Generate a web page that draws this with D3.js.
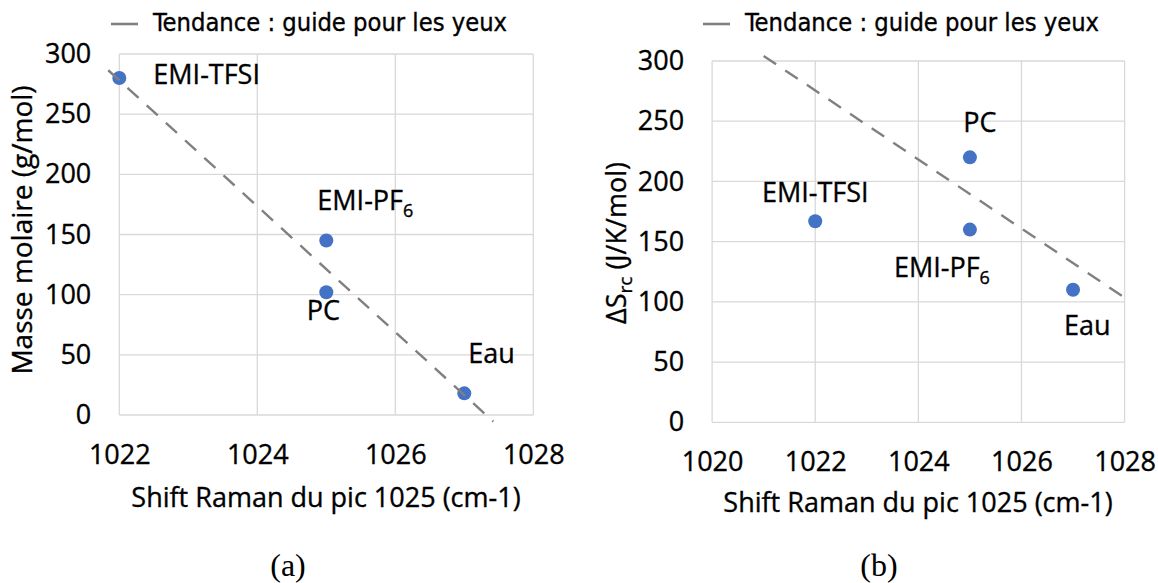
<!DOCTYPE html>
<html>
<head>
<meta charset="utf-8">
<script src="https://cdn.jsdelivr.net/npm/d3@7"></script>
<style>
  body { margin: 0; background: #fff; }
  text { fill: #000; }
  .heavy text, text.heavy { stroke: #000; stroke-width: 0.35; }
</style>
</head>
<body>
<div class="fig"></div>
<script>
// data
const solvants = ["EMI-TFSI", "EMI-PF6", "PC", "Eau"]
const shiftRaman = [1022, 1025, 1025, 1027]
const masseMolaire = [280, 145, 102, 18]
const deltaS = [167, 160, 220, 110]

// trend lines (guide pour les yeux), endpoints [x, y]
const trendA = [[1021.84, 286.5], [1027.42, -5.4]]
const trendB = [[1021.0, 304.2], [1028.04, 102.4]]

const yTicks = [0, 50, 100, 150, 200, 250, 300]
const xTicksA = [1022, 1024, 1026, 1028]
const xTicksB = [1020, 1022, 1024, 1026, 1028]

const legendText = "Tendance : guide pour les yeux"
const xTitle = "Shift Raman du pic 1025 (cm-1)"

const sans = '"Open Sans", sans-serif'

const svg = d3.select('.fig').append('svg')
    .attr('width', 1158)
    .attr('height', 583)
    .style('font-family', sans)

function drawPanel(p) {
    const g = svg.append('g')

    const x = d3.scaleLinear().domain(p.xDomain).range([p.left, p.right])
    const y = d3.scaleLinear().domain([0, 300]).range([p.bottom, p.top])

    // grid
    g.selectAll('.hgrid')
    .data(yTicks)
    .enter()
    .append('line')
    .attr('x1', p.left).attr('x2', p.right)
    .attr('y1', d => y(d)).attr('y2', d => y(d))
    .attr('stroke', '#d9d9d9').attr('stroke-width', 1.3)

    g.selectAll('.vgrid')
    .data(p.xTicks)
    .enter()
    .append('line')
    .attr('x1', d => x(d)).attr('x2', d => x(d))
    .attr('y1', p.top).attr('y2', p.bottom)
    .attr('stroke', '#d9d9d9').attr('stroke-width', 1.3)

    // axes (labels only)
    const xAxis = g.append('g')
    .attr('class', 'heavy')
    .attr('transform', `translate(0,${p.bottom})`)
    .call(d3.axisBottom(x).tickValues(p.xTicks).tickFormat(d3.format('d')).tickSize(0).tickPadding(30))
    xAxis.select('.domain').remove()
    xAxis.attr('font-family', null).attr('font-size', null)
    xAxis.selectAll('text').style('font-size', '27px').attr('fill', '#000')

    const yAxis = g.append('g')
    .attr('class', 'heavy')
    .attr('transform', `translate(${p.left},0)`)
    .call(d3.axisLeft(y).tickValues(yTicks).tickSize(0).tickPadding(28))
    yAxis.select('.domain').remove()
    yAxis.attr('font-family', null).attr('font-size', null)
    yAxis.selectAll('text').style('font-size', '27px').attr('fill', '#000')

    // points
    g.selectAll('.pt')
    .data(solvants)
    .enter()
    .append('circle')
    .attr('cx', (d, i) => x(shiftRaman[i]))
    .attr('cy', (d, i) => y(p.values[i]))
    .attr('r', 7)
    .attr('fill', '#4472c4')

    // trend line on top
    g.append('path')
    .datum(p.trend)
    .attr('d', d3.line().x(d => x(d[0])).y(d => y(d[1])))
    .attr('stroke', '#808080')
    .attr('stroke-width', 2.4)
    .attr('stroke-dasharray', '15,11')
    .attr('fill', 'none')

    // point labels
    const lab = g.selectAll('.lab')
    .data(solvants)
    .enter()
    .append('text')
    .attr('class', 'heavy')
    .attr('x', (d, i) => x(shiftRaman[i]) + p.labelOff[i][0])
    .attr('y', (d, i) => y(p.values[i]) + p.labelOff[i][1])
    .attr('text-anchor', (d, i) => p.labelOff[i][2])
    .style('font-size', '27px')
    lab.each(function(d) {
        const t = d3.select(this)
        const m = d.match(/^(.*PF)(\d)$/)
        if (m) {
            t.append('tspan').text(m[1])
            t.append('tspan').text(m[2]).style('font-size', '18px').attr('dy', 7)
        } else {
            t.text(d)
        }
    })

    // legend
    g.append('line')
    .attr('x1', p.legX).attr('x2', p.legX + 27)
    .attr('y1', 24).attr('y2', 24)
    .attr('stroke', '#808080').attr('stroke-width', 2.6)
    g.append('text')
    .attr('class', 'heavy')
    .attr('x', p.legX + 42).attr('y', 31)
    .style('font-family', '"DejaVu Sans Condensed", sans-serif')
    .style('font-size', '25px')
    .attr('textLength', 354)
    .attr('lengthAdjust', 'spacingAndGlyphs')
    .text(legendText)

    // x title
    g.append('text')
    .attr('class', 'heavy')
    .attr('x', p.xTitleX).attr('y', p.xTitleY)
    .attr('text-anchor', 'middle')
    .style('font-size', '27px')
    .text(xTitle)

    // y title
    const yt = g.append('text')
    .attr('class', 'heavy')
    .attr('transform', `translate(${p.yTitleX},${p.yTitleY}) rotate(-90)`)
    .attr('text-anchor', 'middle')
    .style('font-size', p.yTitleSize + 'px')
    p.yTitle(yt)

    // caption
    g.append('text')
    .attr('x', p.capX).attr('y', 576)
    .attr('text-anchor', 'middle')
    .style('font-family', '"Liberation Serif", serif')
    .style('font-size', '32px')
    .text(p.caption)
}

drawPanel({
    left: 119.3, right: 533.3, top: 54, bottom: 415,
    xDomain: [1022, 1028], xTicks: xTicksA,
    values: masseMolaire, trend: trendA,
    labelOff: [[34, 6, 'start'], [-9, -31, 'start'], [-3, 28, 'middle'], [4, -30, 'start']],
    legX: 111,
    xTitleX: 326, xTitleY: 507,
    yTitleX: 32, yTitleY: 230, yTitleSize: 28,
    yTitle: t => t.text('Masse molaire (g/mol)'),
    capX: 288, caption: '(a)'
})

drawPanel({
    left: 712.1, right: 1124.6, top: 61, bottom: 422.3,
    xDomain: [1020, 1028], xTicks: xTicksB,
    values: deltaS, trend: trendB,
    labelOff: [[0, -19, 'middle'], [-76, 47, 'start'], [10, -25, 'middle'], [-9, 45, 'start']],
    legX: 703,
    xTitleX: 918, xTitleY: 512,
    yTitleX: 626, yTitleY: 243, yTitleSize: 27,
    yTitle: t => {
        t.append('tspan').text('ΔS')
        t.append('tspan').text('rc').style('font-size', '19px').attr('dy', 6)
        t.append('tspan').text(' (J/K/mol)').attr('dy', -6)
    },
    capX: 879, caption: '(b)'
})
</script>
</body>
</html>
